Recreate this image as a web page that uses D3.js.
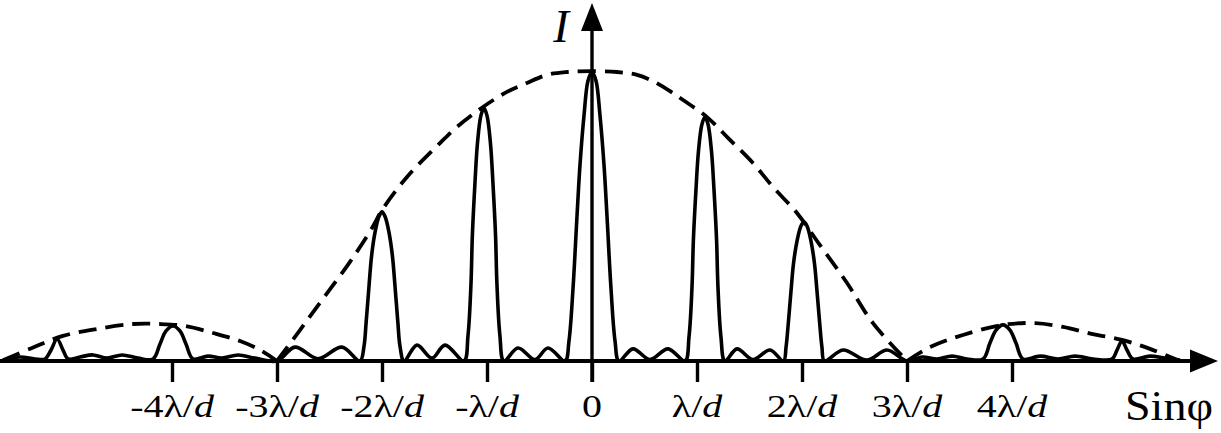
<!DOCTYPE html>
<html><head><meta charset="utf-8">
<script src="https://cdn.jsdelivr.net/npm/d3@7"></script>
<style>html,body{margin:0;padding:0;background:#fff;} svg{display:block;}</style>
</head><body>
<svg id="c" width="1221" height="433"></svg>
<script>
// ---- data (x in units of λ/d, y = relative intensity, central max = 1) ----
const tickValues = [-4, -3, -2, -1, 0, 1, 2, 3, 4];
const tickLabels = ["-4λ/d", "-3λ/d", "-2λ/d", "-λ/d", "0", "λ/d", "2λ/d", "3λ/d", "4λ/d"];
const axisTitleX = "Sinφ";
const axisTitleY = "I";

// solid intensity curve (4-slit pattern)
const intensity = [
  [-5.61,0.003],[-5.448,0.014],[-5.305,0.007],[-5.21,0.007],[-5.152,0.038],[-5.095,0.076],[-5.038,0.038],[-4.99,0.007],
  [-4.876,0.014],[-4.752,0.021],[-4.619,0.01],[-4.476,0.021],[-4.324,0.01],[-4.181,0.007],
  [-4.114,0.059],[-4.057,0.104],[-3.99,0.121],[-3.924,0.104],[-3.867,0.059],[-3.8,0.007],
  [-3.657,0.017],[-3.524,0.01],[-3.371,0.021],[-3.21,0.01],[-3.0,0],
  [-2.829,0.048],[-2.61,0.008],[-2.381,0.048],
  [-2.21,0],[-2.171,0.052],[-2.152,0.129],[-2.124,0.258],[-2.1,0.361],[-2.067,0.444],[-2.029,0.5],[-2.0,0.516],
  [-1.971,0.5],[-1.933,0.444],[-1.9,0.361],[-1.876,0.258],[-1.848,0.129],[-1.829,0.052],[-1.79,0],
  [-1.667,0.055],[-1.524,0.01],[-1.4,0.055],
  [-1.219,0],[-1.181,0.088],[-1.153,0.263],[-1.139,0.438],[-1.115,0.613],[-1.091,0.753],[-1.058,0.849],[-1.029,0.875],
  [-1.0,0.849],[-0.967,0.753],[-0.943,0.613],[-0.919,0.438],[-0.905,0.263],[-0.877,0.088],[-0.839,0],
  [-0.705,0.045],[-0.543,0.005],[-0.419,0.045],
  [-0.257,0],[-0.219,0.07],[-0.181,0.25],[-0.143,0.5],[-0.114,0.68],[-0.076,0.85],[-0.038,0.97],[0,1],
  [0.038,0.97],[0.076,0.85],[0.114,0.68],[0.143,0.5],[0.181,0.25],[0.219,0.07],[0.257,0],
  [0.39,0.042],[0.552,0.005],[0.724,0.042],
  [0.886,0],[0.924,0.084],[0.952,0.253],[0.966,0.422],[0.99,0.591],[1.014,0.726],[1.047,0.819],[1.076,0.844],
  [1.105,0.819],[1.138,0.726],[1.162,0.591],[1.186,0.422],[1.2,0.253],[1.228,0.084],[1.266,0],
  [1.381,0.042],[1.533,0.005],[1.695,0.038],
  [1.824,0],[1.848,0.048],[1.867,0.12],[1.895,0.241],[1.919,0.337],[1.952,0.414],[1.99,0.467],[2.019,0.481],
  [2.048,0.467],[2.086,0.414],[2.119,0.337],[2.143,0.241],[2.171,0.12],[2.19,0.048],[2.214,0],
  [2.39,0.038],[2.619,0.003],[2.81,0.038],[3.0,0],
  [3.143,0.014],[3.286,0.007],[3.429,0.017],[3.571,0.007],[3.724,0.007],
  [3.79,0.062],[3.848,0.107],[3.914,0.125],[3.981,0.107],[4.038,0.062],[4.105,0.007],
  [4.267,0.017],[4.438,0.007],[4.6,0.017],[4.771,0.007],[4.952,0.007],
  [5.0,0.038],[5.048,0.069],[5.095,0.038],[5.152,0.007],[5.314,0.017],[5.457,0.01],[5.6,0.003]
];

// dashed single-slit envelope, three lobes
const envelopeLeft = [[-5.61,0.003],[-5.333,0.045],[-5.038,0.087],[-4.714,0.111],[-4.371,0.128],[-4.114,0.128],
  [-3.876,0.121],[-3.61,0.097],[-3.352,0.069],[-3.162,0.038],[-3.0,0]];
const envelopeMain = [[-3,0],[-2.781,0.107],[-2.543,0.225],[-2.305,0.343],[-2.095,0.46],[-2.0,0.522],[-1.762,0.637],
  [-1.448,0.754],[-1.286,0.81],[-1.038,0.879],[-0.81,0.931],[-0.619,0.962],[-0.429,0.99],[-0.238,1.0],[0,1.003],
  [0.238,1.0],[0.429,0.99],[0.6,0.965],[0.771,0.927],[0.867,0.903],[1.095,0.844],[1.295,0.772],[1.533,0.685],
  [1.724,0.602],[1.952,0.512],[2.171,0.401],[2.429,0.27],[2.676,0.131],[3.0,0]];
const envelopeRight = [[3.0,0],[3.219,0.048],[3.533,0.09],[3.914,0.125],[4.219,0.131],[4.486,0.118],[4.771,0.093],
  [5.048,0.073],[5.314,0.042],[5.581,0.003]];

// ---- drawing ----
const svg = d3.select("#c");
const x = d3.scaleLinear().domain([-3, 3]).range([277, 907]);
const y = d3.scaleLinear().domain([0, 1]).range([361, 72]);
const serif = "Liberation Serif, Times New Roman, serif";

const line = d3.line().x(d => x(d[0])).y(d => y(d[1])).curve(d3.curveCatmullRom.alpha(0.5));

[envelopeLeft, envelopeMain, envelopeRight].forEach(lobe => {
  svg.append("path").attr("d", line(lobe)).attr("fill", "none")
    .attr("stroke", "#000").attr("stroke-width", 3.8).attr("stroke-dasharray", "18,9");
});

svg.append("path").attr("d", line(intensity)).attr("fill", "none")
  .attr("stroke", "#000").attr("stroke-width", 3.6).attr("stroke-linejoin", "round");

// x axis
const y0 = y(0);
const gx = svg.append("g").attr("transform", `translate(0,${y0})`)
  .call(d3.axisBottom(x).tickValues(tickValues).tickSize(21).tickFormat(""));
gx.select(".domain").remove();
gx.selectAll(".tick line").attr("stroke", "#000").attr("stroke-width", 3.4);

svg.append("line").attr("x1", 0).attr("x2", 1196).attr("y1", y0).attr("y2", y0)
  .attr("stroke", "#000").attr("stroke-width", 3.8);
svg.append("path").attr("d", `M1218,${y0} L1190,${y0-11.5} L1190,${y0+11.5} Z`).attr("fill", "#000");

// y axis
const xa = x(0);
svg.append("line").attr("x1", xa).attr("x2", xa).attr("y1", y0 + 21).attr("y2", 24)
  .attr("stroke", "#000").attr("stroke-width", 3.4);
svg.append("path").attr("d", `M${xa},3 L${xa-11},31 L${xa+11},31 Z`).attr("fill", "#000");

// tick labels
const lbl = svg.append("g").selectAll("text").data(tickValues).join("text")
  .attr("transform", d => `translate(${x(d)},417) scale(1.23,1)`)
  .attr("text-anchor", "middle")
  .attr("font-family", serif).attr("font-size", 32.5).attr("fill", "#000");
lbl.each(function(d, i) {
  const s = tickLabels[i];
  const t = d3.select(this);
  if (s.endsWith("d")) {
    t.append("tspan").text(s.slice(0, -1));
    t.append("tspan").attr("font-style", "italic").text("d");
  } else {
    t.text(s);
  }
});

// axis titles
svg.append("text").attr("x", 1125).attr("y", 420)
  .attr("font-family", serif).attr("font-size", 42)
  .attr("textLength", 88).attr("lengthAdjust", "spacingAndGlyphs").text(axisTitleX);
svg.append("text").attr("x", 561).attr("y", 42).attr("text-anchor", "middle")
  .attr("font-family", serif).attr("font-size", 47).attr("font-style", "italic").text(axisTitleY);
</script>
</body></html>
